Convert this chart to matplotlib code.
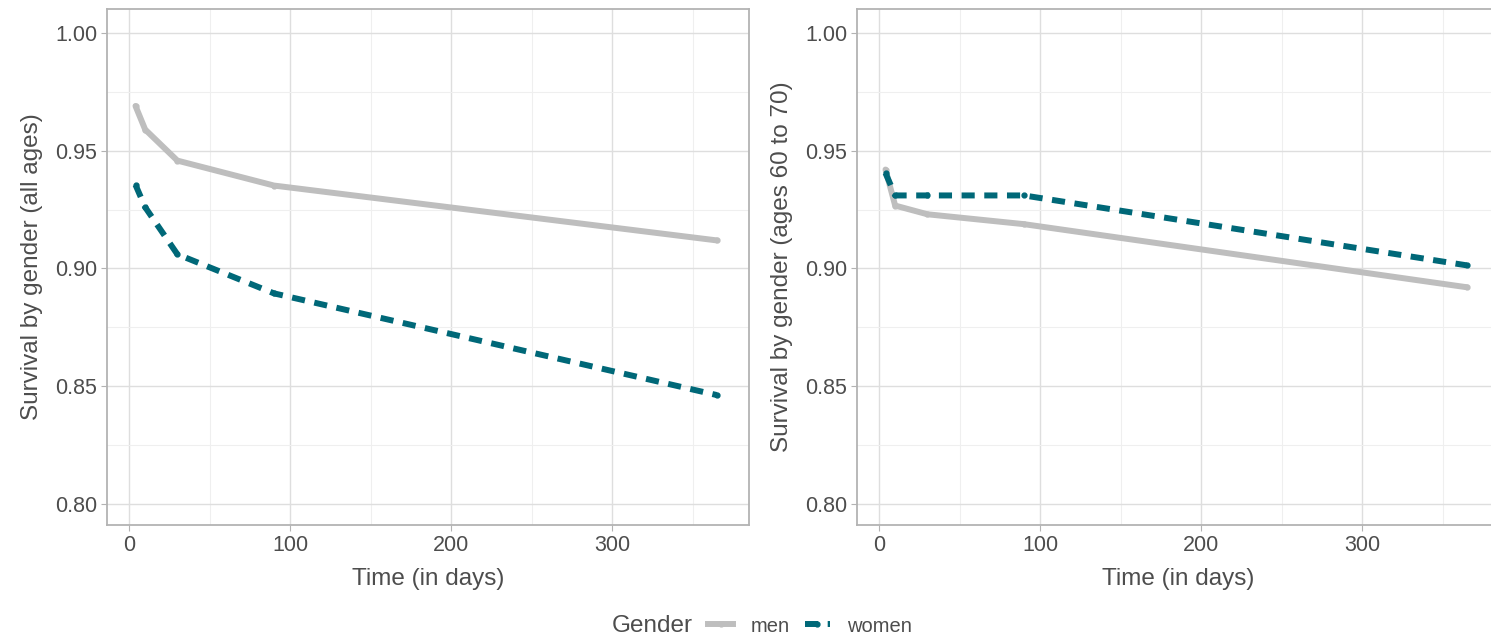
import numpy as np
from matplotlib import pyplot as plt
from matplotlib.lines import Line2D

days = [4, 10, 30, 90, 365]

# all ages
men_all = [0.969, 0.959, 0.9458, 0.9352, 0.9119]
women_all = [0.9355, 0.926, 0.906, 0.8894, 0.8462]

# ages 60 to 70
men_6070 = [0.942, 0.9267, 0.923, 0.9188, 0.892]
women_6070 = [0.9405, 0.931, 0.931, 0.931, 0.9013]

ylabels = ['Survival by gender (all ages)', 'Survival by gender (ages 60 to 70)']
groups = ['men', 'women']

grey = '#BEBEBE'
teal = '#006878'
txt = '#4D4D4D'
dash = (2.2, 1.6)

plt.rcParams['font.family'] = 'Liberation Sans'

W, H = 1491, 639
fig = plt.figure(figsize=(W/100, H/100), dpi=100)

def px_axes(x0, y0, x1, y1):
    return fig.add_axes([x0/W, 1 - y1/H, (x1-x0)/W, (y1-y0)/H])

axes = [px_axes(107, 9, 749, 525), px_axes(857, 9, 1499, 525)]
series = [(men_all, women_all), (men_6070, women_6070)]

for ax, (m, w), lab in zip(axes, series, ylabels):
    ax.set_xlim(-13.7, 385)
    ax.set_ylim(0.791, 1.0102)
    ax.set_xticks([0, 100, 200, 300])
    ax.set_xticks([50, 150, 250, 350], minor=True)
    ax.set_yticks([0.80, 0.85, 0.90, 0.95, 1.00])
    ax.set_yticks([0.825, 0.875, 0.925, 0.975], minor=True)
    ax.set_yticklabels(['0.80', '0.85', '0.90', '0.95', '1.00'])
    ax.grid(which='major', color='#DEDEDE', lw=1.0)
    ax.grid(which='minor', color='#EFEFEF', lw=0.8)
    ax.set_axisbelow(True)
    for s in ax.spines.values():
        s.set_color('#B3B3B3')
        s.set_linewidth(1.3)
    ax.tick_params(which='major', length=4, color='#B3B3B3', labelsize=15.5,
                   labelcolor=txt, pad=3)
    ax.tick_params(which='minor', length=0)
    ax.plot(days, m, color=grey, lw=4.3, solid_capstyle='round',
            marker='o', ms=3.5, mec=grey, mfc=grey)
    ax.plot(days, w, color=teal, lw=4.3, dashes=dash,
            marker='o', ms=3.5, mec=teal, mfc=teal)
    ax.set_xlabel('Time (in days)', fontsize=17.5, color=txt, labelpad=9)
    ax.set_ylabel(lab, fontsize=17.5, color=txt, labelpad=9)

# legend: title on the left, entries in a row
fig.text(612/W, 1 - 626/H, 'Gender', fontsize=17.5, color=txt, va='center', ha='left')
handles = [Line2D([], [], color=grey, lw=4.3, marker='o', ms=3.5),
           Line2D([], [], color=teal, lw=4.3, dashes=dash, marker='o', ms=3.5)]
fig.legend(handles, groups, loc='center left', bbox_to_anchor=(708/W, 1 - 626/H),
           ncol=2, frameon=False, fontsize=14.5, handlelength=1.25,
           handletextpad=0.85, columnspacing=0.75, labelcolor=txt,
           borderpad=0, borderaxespad=0)

fig.savefig('out.png', dpi=100)
